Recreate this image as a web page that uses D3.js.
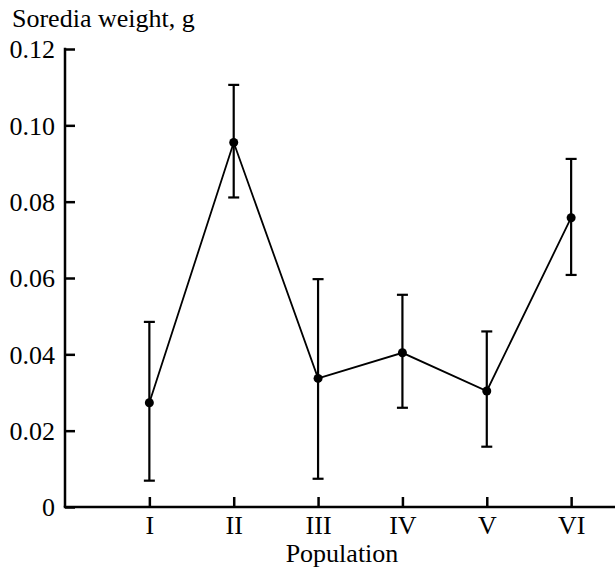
<!DOCTYPE html>
<html>
<head>
<meta charset="utf-8">
<script src="https://cdn.jsdelivr.net/npm/d3@7"></script>
<style>
  body { margin: 0; background: #fff; }
  text { font-family: "Liberation Serif", "Times New Roman", serif; fill: #000; }
</style>
</head>
<body>
<div id="chart"></div>
<script>
// data
var populations = ["I", "II", "III", "IV", "V", "VI"];
var means = [0.0273, 0.0955, 0.0337, 0.0404, 0.0304, 0.0758];
var lower = [0.0069, 0.0811, 0.0074, 0.0260, 0.0158, 0.0608];
var upper = [0.0485, 0.1106, 0.0597, 0.0556, 0.0460, 0.0912];
var yTicks = [0, 0.02, 0.04, 0.06, 0.08, 0.10, 0.12];

var width = 615, height = 567;
var marginLeft = 65, axisBottom = 507, axisTop = 49;
var fontSize = 26;

var svg = d3.select("#chart").append("svg")
  .attr("width", width)
  .attr("height", height);

var x = d3.scaleLinear().domain([0, 6.52]).range([marginLeft, width]); // index 1..6 for I..VI
var y = d3.scaleLinear().domain([0, 0.12]).range([axisBottom, axisTop]);

// y axis
var yAxis = d3.axisRight(y)
  .tickValues(yTicks)
  .tickSize(10)
  .tickFormat(function(d) { return d === 0 ? "0" : d3.format(".2f")(d); });

var gy = svg.append("g")
  .attr("transform", "translate(" + marginLeft + ",0)")
  .call(yAxis);
gy.select(".domain").remove();
gy.selectAll(".tick line").attr("stroke", "#000").attr("stroke-width", 2.5);
gy.selectAll(".tick text")
  .attr("x", -10)
  .attr("text-anchor", "end")
  .attr("dy", "0.34em")
  .style("font-size", fontSize + "px");
svg.append("line")
  .attr("x1", marginLeft).attr("x2", marginLeft)
  .attr("y1", y(0.12) - 1.25).attr("y2", axisBottom)
  .attr("stroke", "#000").attr("stroke-width", 2.5);

// x axis
var xAxis = d3.axisTop(x)
  .tickValues(d3.range(1, populations.length + 1))
  .tickSize(10)
  .tickFormat(function(d) { return populations[d - 1]; });

var gx = svg.append("g")
  .attr("transform", "translate(0," + axisBottom + ")")
  .call(xAxis);
gx.select(".domain").remove();
gx.selectAll(".tick line").attr("stroke", "#000").attr("stroke-width", 2.5);
gx.selectAll(".tick text")
  .attr("y", 27)
  .attr("dy", 0)
  .style("font-size", fontSize + "px");
svg.append("line")
  .attr("x1", marginLeft - 1.25).attr("x2", width)
  .attr("y1", axisBottom).attr("y2", axisBottom)
  .attr("stroke", "#000").attr("stroke-width", 2.5);

// axis titles
svg.append("text")
  .attr("x", 12).attr("y", 27)
  .style("font-size", fontSize + "px")
  .text("Soredia weight, g");

svg.append("text")
  .attr("x", (marginLeft + width) / 2 + 2).attr("y", 562)
  .attr("text-anchor", "middle")
  .style("font-size", fontSize + "px")
  .text("Population");

// error bars
var bars = svg.append("g").selectAll("g")
  .data(populations)
  .enter().append("g");

bars.append("line")
  .attr("x1", function(d, i) { return x(i + 1); })
  .attr("x2", function(d, i) { return x(i + 1); })
  .attr("y1", function(d, i) { return y(lower[i]); })
  .attr("y2", function(d, i) { return y(upper[i]); })
  .attr("stroke", "#000").attr("stroke-width", 2.2);

bars.append("line") // lower cap
  .attr("x1", function(d, i) { return x(i + 1) - 5.5; })
  .attr("x2", function(d, i) { return x(i + 1) + 5.5; })
  .attr("y1", function(d, i) { return y(lower[i]); })
  .attr("y2", function(d, i) { return y(lower[i]); })
  .attr("stroke", "#000").attr("stroke-width", 2.2);

bars.append("line") // upper cap
  .attr("x1", function(d, i) { return x(i + 1) - 5.5; })
  .attr("x2", function(d, i) { return x(i + 1) + 5.5; })
  .attr("y1", function(d, i) { return y(upper[i]); })
  .attr("y2", function(d, i) { return y(upper[i]); })
  .attr("stroke", "#000").attr("stroke-width", 2.2);

// mean line
var line = d3.line()
  .x(function(d, i) { return x(i + 1); })
  .y(function(d) { return y(d); });

svg.append("path")
  .datum(means)
  .attr("d", line)
  .attr("fill", "none")
  .attr("stroke", "#000")
  .attr("stroke-width", 1.8);

svg.append("g").selectAll("circle")
  .data(means)
  .enter().append("circle")
  .attr("cx", function(d, i) { return x(i + 1); })
  .attr("cy", function(d) { return y(d); })
  .attr("r", 4.5)
  .attr("fill", "#000");
</script>
</body>
</html>
